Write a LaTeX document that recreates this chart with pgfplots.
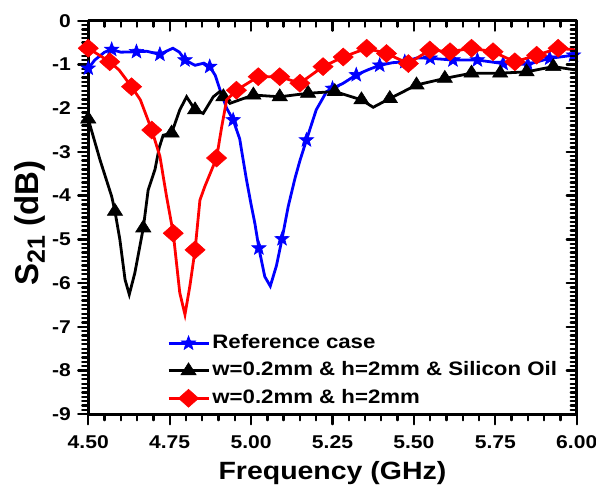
\documentclass[border=0pt]{standalone}
\usepackage{fontspec}
\setmainfont{Liberation Sans}[FakeStretch=1.14]
\newfontfamily\ylfont{Liberation Sans}
\usepackage{pgfplots}
\pgfplotsset{compat=1.18}
\pgfdeclareplotmark{fstar}{%
  \pgfpathmoveto{\pgfpointpolar{90}{\pgfplotmarksize}}%
  \pgfpathlineto{\pgfpointpolar{126}{0.42\pgfplotmarksize}}%
  \pgfpathlineto{\pgfpointpolar{162}{\pgfplotmarksize}}%
  \pgfpathlineto{\pgfpointpolar{198}{0.42\pgfplotmarksize}}%
  \pgfpathlineto{\pgfpointpolar{234}{\pgfplotmarksize}}%
  \pgfpathlineto{\pgfpointpolar{270}{0.42\pgfplotmarksize}}%
  \pgfpathlineto{\pgfpointpolar{306}{\pgfplotmarksize}}%
  \pgfpathlineto{\pgfpointpolar{342}{0.42\pgfplotmarksize}}%
  \pgfpathlineto{\pgfpointpolar{18}{\pgfplotmarksize}}%
  \pgfpathlineto{\pgfpointpolar{54}{0.42\pgfplotmarksize}}%
  \pgfpathclose
  \pgfusepathqfillstroke}
\pgfplotsset{
  common/.style={
    at={(0,0)}, anchor=south west,
    scale only axis, width=488.7bp, height=393.8bp,
    xmin=4.5, xmax=6.0, ymin=-9, ymax=0,
    xtick={4.5,4.75,5.0,5.25,5.5,5.75,6.0},
    ytick={-9,-8,-7,-6,-5,-4,-3,-2,-1,0},
    minor x tick num=4, minor y tick num=9,
    axis line style={line width=2.6bp, -},
    every tick/.style={black, line width=2.3bp, line cap=round},
    major tick length=10bp, minor tick length=6bp,
  }
}
\begin{document}
\begin{tikzpicture}
\begin{axis}[common,
  clip mode=individual,
  axis x line*=bottom, axis y line*=left,
  tick align=outside,
  xticklabels={4.50,4.75,5.00,5.25,5.50,5.75,6.00},
  yticklabels={-9,-8,-7,-6,-5,-4,-3,-2,-1,0},
  ticklabel style={font=\fontsize{18.5bp}{20bp}\selectfont\bfseries},
  xticklabel style={yshift=-8bp},
  yticklabel style={xshift=-4bp},
  xlabel={Frequency (GHz)},
  xlabel style={font=\fontsize{25bp}{28bp}\selectfont\bfseries, at={(axis description cs:0.5,0)}, anchor=base, yshift=-65.5bp},
  legend cell align=left,
  legend image code/.code={\draw[mark repeat=2,mark phase=2] plot coordinates {(0bp,0bp) (20bp,0bp) (40bp,0bp)};},
  legend style={at={(0.155,0.21)}, anchor=north west, draw=none, fill=none,
    font=\fontsize{19.5bp}{21bp}\selectfont\bfseries, row sep=8.5bp,
    nodes={inner sep=0.5bp, text height=14bp, text depth=4bp},
    /tikz/every odd column/.style={column sep=2bp}},
]
% Reference case (blue)
\addplot[blue, line width=2.8bp, forget plot] coordinates {
(4.50,-1.09) (4.52,-0.90) (4.55,-0.72) (4.572,-0.66) (4.60,-0.72) (4.648,-0.71)
(4.68,-0.70) (4.72,-0.77) (4.745,-0.68) (4.76,-0.63) (4.78,-0.72) (4.797,-0.90)
(4.828,-1.02) (4.855,-0.97) (4.873,-1.05) (4.89,-1.25) (4.905,-1.59) (4.925,-2.0)
(4.945,-2.27) (4.965,-2.7) (4.985,-3.6) (5.0,-4.2) (5.012,-4.65) (5.024,-5.20)
(5.042,-5.85) (5.059,-6.07) (5.078,-5.6) (5.095,-4.99) (5.114,-4.25) (5.135,-3.6)
(5.15,-3.2) (5.17,-2.73) (5.20,-2.04) (5.232,-1.62) (5.25,-1.55) (5.283,-1.43)
(5.323,-1.24) (5.36,-1.12) (5.395,-1.02) (5.435,-0.96) (5.472,-0.94) (5.51,-0.85)
(5.55,-0.86) (5.62,-0.90) (5.695,-0.90) (5.774,-0.98) (5.85,-1.0) (5.917,-0.86)
(5.99,-0.79) (6.0,-0.78)
};
\addplot[blue, only marks, mark=fstar, mark size=7.5bp, mark options={line width=0.6bp}, forget plot] coordinates {
(4.50,-1.09) (4.572,-0.66) (4.648,-0.71) (4.72,-0.77) (4.797,-0.90) (4.873,-1.05)
(4.945,-2.27) (5.024,-5.20) (5.095,-4.99) (5.17,-2.73) (5.25,-1.55) (5.323,-1.24)
(5.395,-1.02) (5.472,-0.94) (5.55,-0.86) (5.62,-0.90) (5.695,-0.90) (5.774,-0.98)
(5.85,-1.0) (5.917,-0.86) (5.99,-0.79)
};
% Silicon oil (black)
\addplot[black, line width=2.8bp, forget plot] coordinates {
(4.50,-2.25) (4.536,-3.18) (4.572,-4.02) (4.582,-4.36) (4.597,-5.0) (4.613,-5.92)
(4.626,-6.26) (4.643,-5.77) (4.669,-4.74) (4.684,-3.87) (4.705,-3.4) (4.718,-2.9)
(4.73,-2.62) (4.756,-2.57) (4.781,-2.04) (4.802,-1.74) (4.828,-2.04) (4.853,-2.12) (4.884,-1.74)
(4.904,-1.62) (4.935,-1.89) (4.965,-1.81) (5.007,-1.70) (5.088,-1.74) (5.175,-1.66)
(5.257,-1.62) (5.339,-1.81) (5.375,-1.98) (5.426,-1.78) (5.508,-1.47) (5.595,-1.32)
(5.677,-1.20) (5.765,-1.20) (5.846,-1.17) (5.928,-1.05) (6.0,-1.13)
};
\addplot[black, only marks, mark=triangle*, mark size=8bp, mark options={xscale=1.1, line width=0.6bp}, forget plot] coordinates {
(4.50,-2.25) (4.582,-4.36) (4.669,-4.74) (4.756,-2.57) (4.828,-2.04) (4.915,-1.74)
(5.007,-1.70) (5.088,-1.74) (5.175,-1.66) (5.257,-1.62) (5.339,-1.81) (5.426,-1.78)
(5.508,-1.47) (5.595,-1.32) (5.677,-1.20) (5.765,-1.20) (5.846,-1.17) (5.928,-1.05)
};
% w=0.2mm & h=2mm (red)
\addplot[red, line width=2.8bp, forget plot] coordinates {
(4.50,-0.63) (4.566,-0.94) (4.595,-1.13) (4.633,-1.51) (4.66,-1.81) (4.695,-2.50)
(4.72,-3.1) (4.74,-4.0) (4.761,-4.86) (4.771,-5.54) (4.781,-6.22) (4.797,-6.72)
(4.812,-6.07) (4.828,-5.24) (4.843,-4.1) (4.858,-3.79) (4.894,-3.14) (4.91,-2.42)
(4.925,-1.81) (4.955,-1.59) (5.022,-1.28) (5.088,-1.28) (5.15,-1.43) (5.221,-1.05)
(5.283,-0.83) (5.355,-0.63) (5.416,-0.75) (5.483,-0.98) (5.549,-0.67) (5.611,-0.71)
(5.677,-0.63) (5.743,-0.71) (5.81,-0.94) (5.877,-0.79) (5.943,-0.63) (6.0,-0.67)
};
\addplot[red, only marks, mark=diamond*, mark size=9bp, mark options={xscale=1.5, line width=0.5bp}, forget plot] coordinates {
(4.50,-0.63) (4.566,-0.94) (4.633,-1.51) (4.695,-2.50) (4.761,-4.86) (4.828,-5.24)
(4.894,-3.14) (4.955,-1.59) (5.022,-1.28) (5.088,-1.28) (5.15,-1.43) (5.221,-1.05)
(5.283,-0.83) (5.355,-0.63) (5.416,-0.75) (5.483,-0.98) (5.549,-0.67) (5.611,-0.71)
(5.677,-0.63) (5.743,-0.71) (5.81,-0.94) (5.877,-0.79) (5.943,-0.63)
};
\addlegendimage{blue, line width=2.8bp, mark=fstar, mark size=7.5bp, mark options={line width=0.6bp}}
\addlegendentry{Reference case}
\addlegendimage{black, line width=2.8bp, mark=triangle*, mark size=8bp, mark options={xscale=1.1, line width=0.6bp}}
\addlegendentry{w=0.2mm \& h=2mm \& Silicon Oil}
\addlegendimage{red, line width=2.8bp, mark=diamond*, mark size=9bp, mark options={xscale=1.5, line width=0.5bp}}
\addlegendentry{w=0.2mm \& h=2mm}
\node[rotate=90, anchor=center, inner sep=0pt] at (axis description cs:-0.12,0.486)
  {\ylfont\fontsize{33bp}{36bp}\selectfont\bfseries S\raisebox{-0.2em}{\fontsize{25bp}{26bp}\selectfont 21} (dB)};
\end{axis}
\begin{axis}[common,
  axis x line*=top, axis y line*=right,
  tick align=inside,
  xticklabels={}, yticklabels={},
]
\end{axis}
\pgfresetboundingbox
\path[use as bounding box] (-88.3bp,-71.5bp) rectangle (508bp,414.5bp);
\end{tikzpicture}
\end{document}
